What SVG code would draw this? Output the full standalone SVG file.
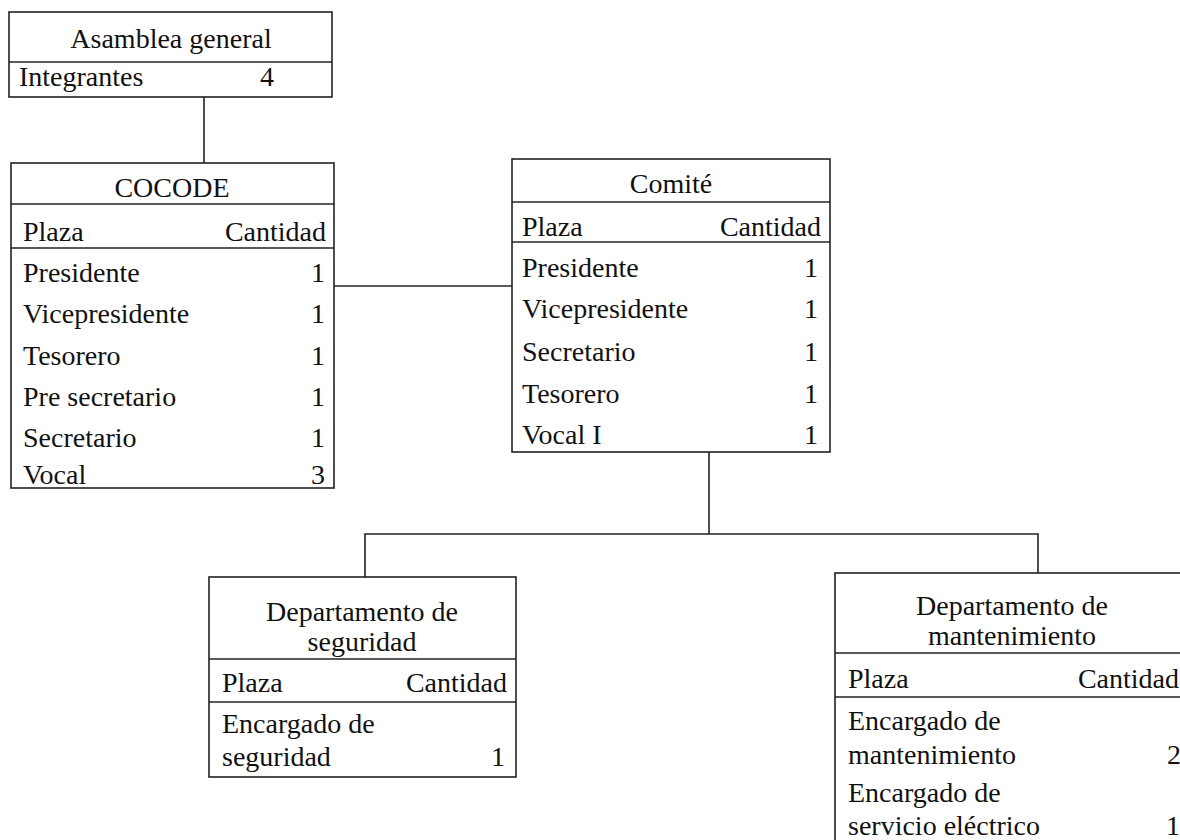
<svg xmlns="http://www.w3.org/2000/svg" width="1180" height="840" viewBox="0 0 1180 840">
<style>
  .box { fill: #fff; stroke: #222; stroke-width: 1.6; }
  .div { stroke: #222; stroke-width: 1.6; }
  .conn { fill: none; stroke: #222; stroke-width: 1.6; }
  text { font-family: "Liberation Serif", "Times New Roman", serif; font-size: 28px; fill: #111; }
  .c { text-anchor: middle; }
  .r { text-anchor: end; }
</style>
<rect width="1180" height="840" fill="#fff"/>
<g id="connectors">
  <line class="conn" x1="204" y1="97" x2="204" y2="163"/>
  <line class="conn" x1="334" y1="286" x2="512" y2="286"/>
  <polyline class="conn" points="709,452 709,534"/>
  <polyline class="conn" points="365,577 365,534 1038,534 1038,573"/>
</g>
<g id="asamblea">
  <rect class="box" x="9" y="12" width="323" height="85"/>
  <line class="div" x1="9" y1="62" x2="332" y2="62"/>
  <text class="c" x="171" y="48">Asamblea general</text>
  <text x="19" y="86">Integrantes</text>
  <text class="r" x="274" y="86">4</text>
</g>
<g id="cocode">
  <rect class="box" x="11" y="163" width="323" height="325"/>
  <line class="div" x1="11" y1="204" x2="334" y2="204"/>
  <line class="div" x1="11" y1="248" x2="334" y2="248"/>
  <text class="c" x="172" y="197">COCODE</text>
  <text x="23" y="241">Plaza</text>
  <text class="r" x="326" y="241">Cantidad</text>
  <text x="23" y="282">Presidente</text><text class="r" x="325" y="282">1</text>
  <text x="23" y="323">Vicepresidente</text><text class="r" x="325" y="323">1</text>
  <text x="23" y="365">Tesorero</text><text class="r" x="325" y="365">1</text>
  <text x="23" y="406">Pre secretario</text><text class="r" x="325" y="406">1</text>
  <text x="23" y="447">Secretario</text><text class="r" x="325" y="447">1</text>
  <text x="23" y="484">Vocal</text><text class="r" x="325" y="484">3</text>
</g>
<g id="comite">
  <rect class="box" x="512" y="159" width="318" height="293"/>
  <line class="div" x1="512" y1="202" x2="830" y2="202"/>
  <line class="div" x1="512" y1="242" x2="830" y2="242"/>
  <text class="c" x="671" y="193">Comité</text>
  <text x="522" y="236">Plaza</text>
  <text class="r" x="821" y="236">Cantidad</text>
  <text x="522" y="277">Presidente</text><text class="r" x="818" y="277">1</text>
  <text x="522" y="318">Vicepresidente</text><text class="r" x="818" y="318">1</text>
  <text x="522" y="361">Secretario</text><text class="r" x="818" y="361">1</text>
  <text x="522" y="403">Tesorero</text><text class="r" x="818" y="403">1</text>
  <text x="522" y="444">Vocal I</text><text class="r" x="818" y="444">1</text>
</g>
<g id="dep-seguridad">
  <rect class="box" x="209" y="577" width="307" height="200"/>
  <line class="div" x1="209" y1="659" x2="516" y2="659"/>
  <line class="div" x1="209" y1="702" x2="516" y2="702"/>
  <text class="c" x="362" y="621">Departamento de</text>
  <text class="c" x="362" y="651">seguridad</text>
  <text x="222" y="692">Plaza</text>
  <text class="r" x="507" y="692">Cantidad</text>
  <text x="222" y="733">Encargado de</text>
  <text x="222" y="766">seguridad</text>
  <text class="r" x="505" y="766">1</text>
</g>
<g id="dep-mantenimiento">
  <rect class="box" x="835" y="573" width="350" height="280"/>
  <line class="div" x1="835" y1="653" x2="1185" y2="653"/>
  <line class="div" x1="835" y1="697" x2="1185" y2="697"/>
  <text class="c" x="1012" y="615">Departamento de</text>
  <text class="c" x="1012" y="645">mantenimiento</text>
  <text x="848" y="688">Plaza</text>
  <text class="r" x="1179" y="688">Cantidad</text>
  <text x="848" y="730">Encargado de</text>
  <text x="848" y="764">mantenimiento</text>
  <text class="r" x="1181" y="764">2</text>
  <text x="848" y="802">Encargado de</text>
  <text x="848" y="835">servicio eléctrico</text>
  <text class="r" x="1180" y="835">1</text>
</g>
</svg>
